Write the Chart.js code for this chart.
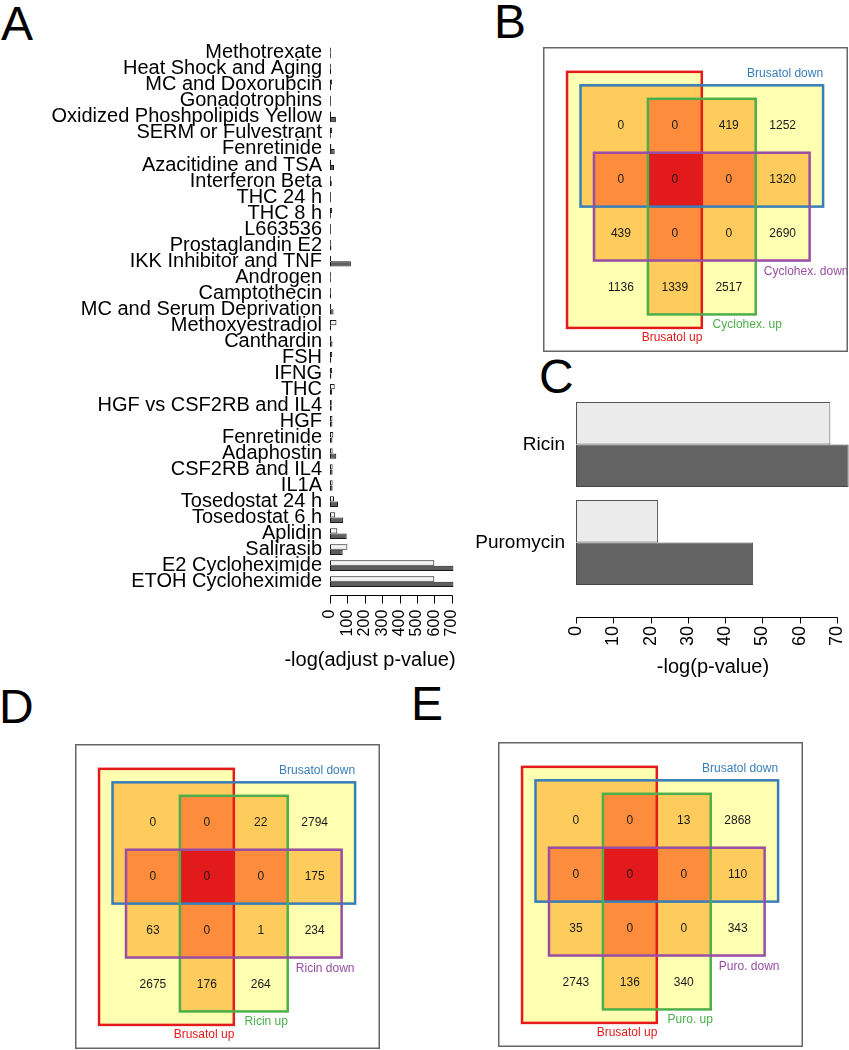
<!DOCTYPE html>
<html>
<head>
<meta charset="utf-8">
<script src="https://cdn.jsdelivr.net/npm/chart.js@4"></script>
<style>
body { margin: 0; background: #fff; width: 849px; height: 1050px; position: relative; overflow: hidden; font-family: "Liberation Sans", Arial, sans-serif; }
canvas { position: absolute; }
.tag { position: absolute; font-size: 48px; line-height: 1; color: #000; }
</style>
</head>
<body>
<div class="tag" style="left:1px;top:0px">A</div>
<div class="tag" style="left:494px;top:-2px">B</div>
<div class="tag" style="left:539px;top:353px">C</div>
<div class="tag" style="left:-1px;top:683px">D</div>
<div class="tag" style="left:411px;top:680px">E</div>

<canvas id="chartA" width="475" height="680" style="left:0;top:0"></canvas>
<canvas id="chartC" width="379" height="320" style="left:470px;top:360px"></canvas>
<canvas id="vennB" width="305" height="305" style="left:543px;top:47px"></canvas>
<canvas id="vennD" width="305" height="305" style="left:75px;top:744px"></canvas>
<canvas id="vennE" width="305" height="305" style="left:498px;top:742px"></canvas>

<script>
Chart.defaults.font.family = '"Liberation Sans", Arial, sans-serif';
Chart.defaults.color = '#000';

// panel A
var drugsA = ['Methotrexate', 'Heat Shock and Aging', 'MC and Doxorubcin', 'Gonadotrophins',
    'Oxidized Phoshpolipids Yellow', 'SERM or Fulvestrant', 'Fenretinide', 'Azacitidine and TSA',
    'Interferon Beta', 'THC 24 h', 'THC 8 h', 'L663536', 'Prostaglandin E2', 'IKK Inhibitor and TNF',
    'Androgen', 'Camptothecin', 'MC and Serum Deprivation', 'Methoxyestradiol', 'Canthardin', 'FSH',
    'IFNG', 'THC', 'HGF vs CSF2RB and IL4', 'HGF', 'Fenretinide', 'Adaphostin', 'CSF2RB and IL4',
    'IL1A', 'Tosedostat 24 h', 'Tosedostat 6 h', 'Aplidin', 'Salirasib', 'E2 Cycloheximide',
    'ETOH Cycloheximide'];
var lightA = [5, 5, 12, 5, 6, 12, 8, 6, 5, 5, 12, 5, 5, 6, 5, 5, 6, 37, 8, 12,
    12, 27, 10, 14, 19, 15, 15, 15, 23, 30, 42, 100, 600, 600];
var darkA = [5, 6, 6, 5, 34, 5, 27, 23, 10, 5, 5, 5, 8, 120, 5, 6, 20, 6, 14, 7,
    8, 12, 10, 14, 14, 36, 15, 15, 46, 76, 96, 73, 710, 710];
var ticksA = [0, 100, 200, 300, 400, 500, 600, 700];

// panel C
var drugsC = ['Ricin', 'Puromycin'];
var lightC = [68.2, 22];
var darkC = [73.1, 47.5];
var ticksC = [0, 10, 20, 30, 40, 50, 60, 70];

// panels B, D, E: cell counts row by row (4 per row)
var countsB = [0, 0, 419, 1252, 0, 0, 0, 1320, 439, 0, 0, 2690, 1136, 1339, 2517];
var setsB = ['Brusatol up', 'Brusatol down', 'Cyclohex. up', 'Cyclohex. down'];
var countsD = [0, 0, 22, 2794, 0, 0, 0, 175, 63, 0, 1, 234, 2675, 176, 264];
var setsD = ['Brusatol up', 'Brusatol down', 'Ricin up', 'Ricin down'];
var countsE = [0, 0, 13, 2868, 0, 0, 0, 110, 35, 0, 0, 343, 2743, 136, 340];
var setsE = ['Brusatol up', 'Brusatol down', 'Puro. up', 'Puro. down'];

// R style axis: line only from 0 to the last tick, set below the plot, title under it
function rAxis(gap, len, title, titleX, titleY) {
    return {
        id: 'rAxis',
        afterDraw: function(chart) {
            var ctx = chart.ctx;
            var x = chart.scales.x;
            var a = chart.chartArea;
            var y0 = Math.round(a.bottom + gap) + 0.5;
            var last = x.ticks[x.ticks.length - 1].value;
            ctx.save();
            ctx.strokeStyle = '#000';
            ctx.lineWidth = 1;
            ctx.beginPath();
            ctx.moveTo(Math.round(x.getPixelForValue(0)) + 0.5, y0);
            ctx.lineTo(Math.round(x.getPixelForValue(last)) + 0.5, y0);
            x.ticks.forEach(function(t) {
                var px = Math.round(x.getPixelForValue(t.value)) + 0.5;
                ctx.moveTo(px, y0);
                ctx.lineTo(px, y0 + len);
            });
            ctx.stroke();
            ctx.font = '20px "Liberation Sans", Arial, sans-serif';
            ctx.fillStyle = '#000';
            ctx.textAlign = 'center';
            ctx.textBaseline = 'middle';
            ctx.fillText(title, titleX, titleY);
            ctx.restore();
        }
    };
}

function noSidePad(s) {
    s.paddingLeft = 0;
    s.paddingRight = 0;
}

new Chart(document.getElementById('chartA'), {
    type: 'bar',
    data: {
        labels: drugsA,
        datasets: [
            { data: lightA, backgroundColor: '#f2f2f2', borderColor: '#1a1a1a', borderWidth: 1,
              borderSkipped: false, categoryPercentage: 0.667, barPercentage: 1 },
            { data: darkA, backgroundColor: '#5e5e5e', borderColor: '#1a1a1a', borderWidth: 1,
              borderSkipped: false, categoryPercentage: 0.667, barPercentage: 1 }
        ]
    },
    options: {
        indexAxis: 'y',
        responsive: false,
        animation: false,
        layout: { padding: { top: 44.8, right: 20.7, left: 0, bottom: 0 } },
        plugins: { legend: { display: false }, tooltip: { enabled: false } },
        scales: {
            y: {
                grid: { display: false, drawTicks: false },
                border: { display: false },
                ticks: { autoSkip: false, padding: 8, font: { size: 20 }, color: '#000' },
                afterFit: function(s) { s.width = 330; }
            },
            x: {
                min: 0, max: 715,
                grid: { display: false, drawTicks: false },
                border: { display: false },
                ticks: { autoSkip: false, minRotation: 90, maxRotation: 90, padding: 20,
                         font: { size: 16 }, color: '#000' },
                afterBuildTicks: function(s) { s.ticks = ticksA.map(function(v) { return { value: v }; }); },
                afterFit: function(s) { s.height = 90.3; noSidePad(s); }
            }
        }
    },
    plugins: [rAxis(5.3, 8, '-log(adjust p-value)', 370, 660)]
});

new Chart(document.getElementById('chartC'), {
    type: 'bar',
    data: {
        labels: drugsC,
        datasets: [
            { data: lightC, backgroundColor: '#ebebeb', borderColor: '#555', borderWidth: 1,
              borderSkipped: false, categoryPercentage: 0.867, barPercentage: 1 },
            { data: darkC, backgroundColor: '#636363', borderColor: '#444', borderWidth: 1,
              borderSkipped: false, categoryPercentage: 0.867, barPercentage: 1 }
        ]
    },
    options: {
        indexAxis: 'y',
        responsive: false,
        animation: false,
        layout: { padding: { top: 35.5, right: 0, left: 0, bottom: 0 } },
        plugins: { legend: { display: false }, tooltip: { enabled: false } },
        scales: {
            y: {
                grid: { display: false, drawTicks: false },
                border: { display: false },
                ticks: { padding: 11, font: { size: 19 }, color: '#000' },
                afterFit: function(s) { s.width = 106; }
            },
            x: {
                min: 0, max: 73.2,
                grid: { display: false, drawTicks: false },
                border: { display: false },
                ticks: { autoSkip: false, minRotation: 90, maxRotation: 90, padding: 34.5,
                         font: { size: 18 }, color: '#000' },
                afterBuildTicks: function(s) { s.ticks = ticksC.map(function(v) { return { value: v }; }); },
                afterFit: function(s) { s.height = 88.5; noSidePad(s); }
            }
        }
    },
    plugins: [rAxis(25.5, 6, '-log(p-value)', 243, 307)]
});

// venn layout, in grid cell units (cell = 1)
var setColors = ['#e41a1c', '#377eb8', '#4daf4a', '#984ea3'];
var overlapFills = ['#ffffb2', '#fecc5c', '#fd8d3c', '#e31a1c'];
var setBoxes = [[-0.5, 2, -0.5, 4.25], [-0.25, 4.25, -0.25, 2], [1, 3, 0, 4], [0, 4, 1, 3]];
var labelSpots = [[2.01, 4.44, 'right'], [4.25, -0.46, 'right'], [2.2, 4.19, 'left'], [3.15, 3.2, 'left']];

function uniq(a) {
    return a.filter(function(v, i) { return a.indexOf(v) === i; }).sort(function(p, q) { return p - q; });
}

var vennPlugin = {
    id: 'venn',
    beforeDatasetsDraw: function(chart) {
        var ctx = chart.ctx, sx = chart.scales.x, sy = chart.scales.y;
        var xs = [], ys = [];
        setBoxes.forEach(function(b) { xs.push(b[0], b[1]); ys.push(b[2], b[3]); });
        xs = uniq(xs);
        ys = uniq(ys);
        ctx.save();
        for (var i = 0; i < xs.length - 1; i++) {
            for (var j = 0; j < ys.length - 1; j++) {
                var cx = (xs[i] + xs[i + 1]) / 2, cy = (ys[j] + ys[j + 1]) / 2;
                var n = setBoxes.filter(function(b) {
                    return cx > b[0] && cx < b[1] && cy > b[2] && cy < b[3];
                }).length;
                if (!n) continue;
                var x0 = Math.round(sx.getPixelForValue(xs[i])), x1 = Math.round(sx.getPixelForValue(xs[i + 1]));
                var y0 = Math.round(sy.getPixelForValue(ys[j])), y1 = Math.round(sy.getPixelForValue(ys[j + 1]));
                ctx.fillStyle = overlapFills[n - 1];
                ctx.fillRect(x0, y0, x1 - x0, y1 - y0);
            }
        }
        ctx.lineWidth = 2.5;
        setBoxes.forEach(function(b, k) {
            var x0 = sx.getPixelForValue(b[0]), x1 = sx.getPixelForValue(b[1]);
            var y0 = sy.getPixelForValue(b[2]), y1 = sy.getPixelForValue(b[3]);
            ctx.strokeStyle = setColors[k];
            ctx.strokeRect(x0, y0, x1 - x0, y1 - y0);
        });
        ctx.restore();
    },
    afterDatasetsDraw: function(chart) {
        var ctx = chart.ctx, sx = chart.scales.x, sy = chart.scales.y;
        var ds = chart.data.datasets[0];
        ctx.save();
        ctx.font = '12px "Liberation Sans", Arial, sans-serif';
        ctx.textBaseline = 'middle';
        ctx.textAlign = 'center';
        ctx.fillStyle = '#1a1a1a';
        chart.getDatasetMeta(0).data.forEach(function(el, i) {
            ctx.fillText(String(ds.data[i].v), el.x, el.y);
        });
        ds.setNames.forEach(function(name, k) {
            var s = labelSpots[k];
            ctx.fillStyle = setColors[k];
            ctx.textAlign = s[2];
            ctx.fillText(name, sx.getPixelForValue(s[0]), sy.getPixelForValue(s[1]));
        });
        var a = chart.chartArea;
        ctx.strokeStyle = '#666';
        ctx.lineWidth = 1.5;
        ctx.strokeRect(a.left + 0.75, a.top + 0.75, a.right - a.left - 1.5, a.bottom - a.top - 1.5);
        ctx.restore();
    }
};

function drawVenn(id, counts, names) {
    new Chart(document.getElementById(id), {
        type: 'scatter',
        data: {
            datasets: [{
                data: counts.map(function(v, i) { return { x: i % 4 + 0.5, y: Math.floor(i / 4) + 0.5, v: v }; }),
                setNames: names,
                pointRadius: 0
            }]
        },
        options: {
            responsive: false,
            animation: false,
            layout: { padding: 0 },
            plugins: { legend: { display: false }, tooltip: { enabled: false } },
            scales: {
                x: { type: 'linear', min: -0.946, max: 4.712, display: false },
                y: { type: 'linear', min: -0.961, max: 4.697, reverse: true, display: false }
            }
        },
        plugins: [vennPlugin]
    });
}

drawVenn('vennB', countsB, setsB);
drawVenn('vennD', countsD, setsD);
drawVenn('vennE', countsE, setsE);
</script>
</body>
</html>
